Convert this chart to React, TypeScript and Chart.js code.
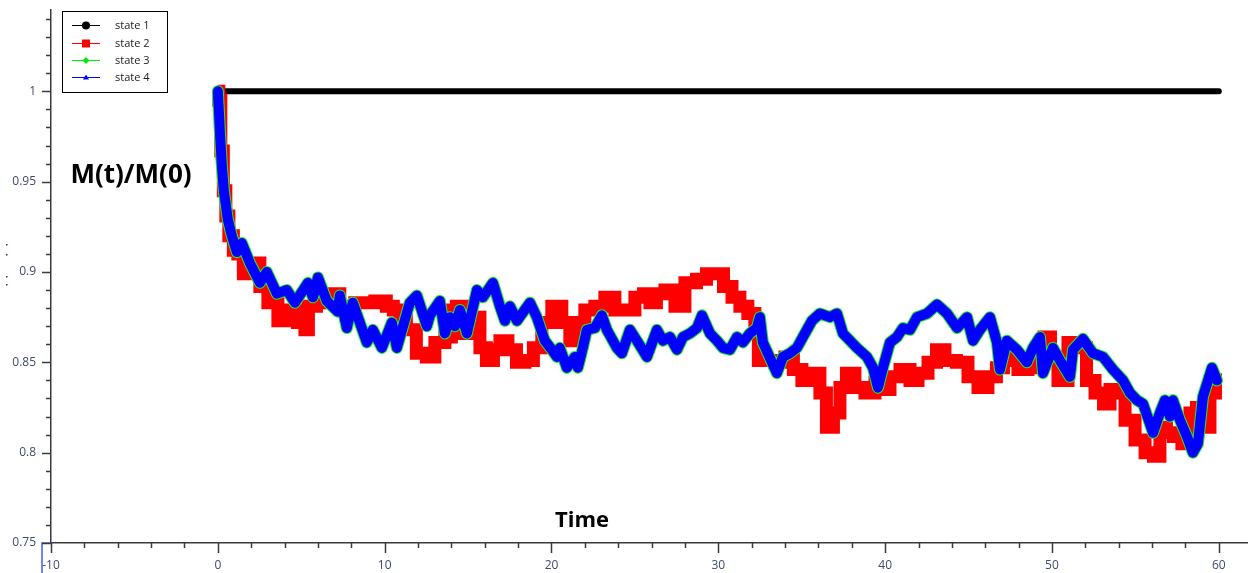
import React, { useEffect, useRef } from "react";
import { Chart, registerables } from "chart.js";

Chart.register(...registerables);

// ---- data ----
const state1T = [0, 60];
const state1V = [1, 1];

const state2T = [0,0.12,0.24,0.42,0.54,0.78,1.08,1.32,1.74,2.34,2.70,3.30,3.90,4.44,5.10,5.34,5.52,6.30,7.13,7.49,8.93,9.89,10.31,10.73,11.09,11.51,12.29,12.71,13.31,13.91,14.09,14.51,14.93,15.53,15.89,16.31,16.73,17.09,17.69,18.11,18.71,19.12,19.72,20.32,20.92,21.28,21.70,22.30,22.90,23.50,24.10,24.70,25.30,25.72,26.08,26.50,27.10,27.70,28.30,29.08,29.50,30.10,30.52,31.12,31.47,32.07,32.31,32.49,33.09,33.69,34.29,34.71,35.31,35.91,36.27,36.69,37.11,37.47,37.89,38.49,39.09,39.69,40.11,40.47,41.31,41.67,42.27,42.87,43.29,43.88,44.66,45.27,45.86,46.46,46.88,47.30,47.66,48.26,48.86,49.28,49.76,50.06,50.66,51.26,51.86,52.28,52.88,53.30,53.66,54.08,54.68,55.28,55.88,56.29,56.65,57.07,57.49,58.09,58.45,58.87,59.29,59.65,59.95];
const state2V = [1.0,0.995,0.967,0.945,0.931,0.920,0.912,0.910,0.899,0.905,0.892,0.883,0.873,0.879,0.872,0.868,0.881,0.883,0.888,0.881,0.883,0.884,0.881,0.879,0.875,0.868,0.855,0.853,0.861,0.864,0.879,0.881,0.866,0.875,0.858,0.851,0.857,0.862,0.857,0.850,0.851,0.858,0.872,0.881,0.872,0.862,0.872,0.879,0.881,0.886,0.879,0.879,0.886,0.888,0.883,0.888,0.890,0.881,0.894,0.896,0.899,0.899,0.892,0.886,0.881,0.877,0.869,0.851,0.851,0.850,0.853,0.846,0.840,0.844,0.833,0.814,0.822,0.836,0.844,0.836,0.833,0.839,0.835,0.842,0.846,0.840,0.844,0.850,0.857,0.851,0.850,0.842,0.836,0.842,0.847,0.858,0.851,0.846,0.847,0.851,0.864,0.853,0.840,0.861,0.858,0.840,0.833,0.827,0.835,0.833,0.818,0.807,0.800,0.798,0.814,0.811,0.809,0.805,0.822,0.825,0.814,0.833,0.844];

const state4T = [0,0.06,0.12,0.24,0.36,0.48,0.60,0.84,1.14,1.44,1.92,2.52,2.94,3.54,4.14,4.62,5.40,5.70,6.00,6.53,7.19,7.31,7.73,8.09,8.93,9.29,9.83,10.43,10.73,11.51,11.93,12.53,12.71,13.31,13.61,13.91,14.21,14.51,14.93,15.53,15.89,16.49,16.91,17.21,17.51,17.93,18.71,19.12,19.60,20.02,20.32,20.50,20.92,21.40,21.58,21.88,22.12,22.60,23.02,23.32,23.92,24.22,24.70,25.12,25.72,26.32,26.68,27.10,27.52,27.88,28.30,28.72,29.02,29.50,29.92,30.28,30.70,31.12,31.47,31.89,32.31,32.49,32.67,32.97,33.51,33.87,34.29,34.71,35.07,35.61,36.09,36.69,37.11,37.47,37.89,38.31,38.91,39.27,39.57,39.87,40.29,40.71,41.07,41.49,41.91,42.51,43.11,43.71,44.31,44.91,45.27,45.68,46.28,46.70,46.88,47.30,47.90,48.50,48.86,49.28,49.46,50.06,50.48,51.08,51.26,51.86,52.46,53.06,53.66,54.26,54.68,55.10,55.46,56.06,56.47,56.77,57.07,57.25,57.67,58.09,58.45,58.75,59.05,59.59,59.89];
const state4V = [1.0,0.9895,0.978,0.959,0.945,0.937,0.929,0.920,0.911,0.916,0.905,0.894,0.900,0.888,0.890,0.883,0.894,0.886,0.897,0.884,0.878,0.887,0.869,0.883,0.861,0.868,0.858,0.872,0.858,0.883,0.887,0.870,0.876,0.884,0.866,0.875,0.870,0.879,0.866,0.890,0.886,0.894,0.881,0.873,0.881,0.873,0.883,0.875,0.862,0.857,0.853,0.858,0.847,0.853,0.847,0.858,0.868,0.869,0.876,0.868,0.858,0.855,0.868,0.862,0.853,0.868,0.862,0.864,0.857,0.864,0.866,0.869,0.876,0.866,0.862,0.858,0.857,0.864,0.861,0.866,0.869,0.875,0.861,0.855,0.844,0.853,0.855,0.858,0.864,0.873,0.877,0.875,0.877,0.866,0.862,0.858,0.853,0.847,0.836,0.847,0.861,0.864,0.869,0.868,0.875,0.877,0.882,0.877,0.869,0.875,0.862,0.868,0.875,0.861,0.846,0.862,0.857,0.850,0.858,0.864,0.844,0.858,0.851,0.842,0.857,0.863,0.855,0.853,0.846,0.840,0.833,0.829,0.827,0.811,0.822,0.829,0.820,0.829,0.818,0.809,0.800,0.805,0.831,0.847,0.840];

// state 3 lies directly under state 4 in the reference
const state3T = state4T;
const state3V = state4V;

const legendLabels = ["state 1", "state 2", "state 3", "state 4"];
const yTitle = "M(t)/M(0)";
const xTitle = "Time";

const X_MIN = -10;
const X_MAX = 61.75;
const Y_MIN = 0.75;
const Y_MAX = 1.045;

const AXIS = "#3a3a3a";
const TICK_TXT = "#3e4a6e";

const toXY = (t: number[], v: number[]) => t.map((tt, i) => ({ x: tt, y: v[i] }));

const decor = {
  id: "decor",
  afterDraw(chart: any) {
    const { ctx } = chart;
    const xs = chart.scales.x;
    const ys = chart.scales.y;
    const left = chart.chartArea.left;
    const bottom = chart.chartArea.bottom;
    ctx.save();
    // artifact blue line at bottom left
    ctx.strokeStyle = "#4a5ae8";
    ctx.lineWidth = 1.5;
    ctx.beginPath();
    ctx.moveTo(42, 573);
    ctx.lineTo(42, bottom);
    ctx.lineTo(left, bottom);
    ctx.stroke();
    // tiny dots on left
    ctx.fillStyle = "#2a3a80";
    [244, 254, 276, 284].forEach((yy) => ctx.fillRect(6, yy, 1.5, 1.5));

    // ticks
    ctx.strokeStyle = AXIS;
    ctx.lineWidth = 1.5;
    for (let i = 0; i <= 29; i++) {
      const v = Y_MIN + i * 0.01;
      const py = Math.round(ys.getPixelForValue(v)) + 0.5;
      const len = i % 5 === 0 ? 9 : 5;
      ctx.beginPath();
      ctx.moveTo(left - len, py);
      ctx.lineTo(left, py);
      ctx.stroke();
    }
    for (let i = 0; i <= 35; i++) {
      const v = X_MIN + i * 2;
      const px = Math.round(xs.getPixelForValue(v)) + 0.5;
      const len = i % 5 === 0 ? 10 : 5;
      ctx.beginPath();
      ctx.moveTo(px, bottom);
      ctx.lineTo(px, bottom + len);
      ctx.stroke();
    }

    // axis titles (inside the plot)
    ctx.fillStyle = "#000";
    ctx.textAlign = "center";
    ctx.textBaseline = "middle";
    ctx.font = "bold 26px 'Open Sans'";
    ctx.fillText(yTitle, 131, 176);
    ctx.font = "bold 22px 'Open Sans'";
    ctx.fillText(xTitle, 582, 521);

    // legend box
    ctx.fillStyle = "#fff";
    ctx.fillRect(62.5, 11.5, 105, 81);
    ctx.strokeStyle = "#000";
    ctx.lineWidth = 1;
    ctx.strokeRect(62.5, 11.5, 105, 81);
    const colors = ["#000000", "#ff0000", "#00ee00", "#0000ff"];
    const rows = [25, 43, 60, 77];
    ctx.font = "11px 'Open Sans'";
    ctx.textAlign = "left";
    rows.forEach((ry, i) => {
      ctx.strokeStyle = colors[i];
      ctx.lineWidth = 1;
      ctx.beginPath();
      ctx.moveTo(72, ry + 0.5);
      ctx.lineTo(100, ry + 0.5);
      ctx.stroke();
      ctx.fillStyle = colors[i];
      ctx.beginPath();
      if (i === 0) {
        ctx.arc(86, ry + 0.5, 4, 0, Math.PI * 2);
      } else if (i === 1) {
        ctx.rect(82, ry - 3.5, 8, 8);
      } else if (i === 2) {
        ctx.moveTo(86, ry - 3);
        ctx.lineTo(89.5, ry + 0.5);
        ctx.lineTo(86, ry + 4);
        ctx.lineTo(82.5, ry + 0.5);
        ctx.closePath();
      } else {
        ctx.moveTo(86, ry - 2.5);
        ctx.lineTo(89, ry + 2.5);
        ctx.lineTo(83, ry + 2.5);
        ctx.closePath();
      }
      ctx.fill();
      ctx.fillStyle = "#222";
      ctx.fillText(legendLabels[i], 115, ry + 1);
    });
    ctx.restore();
  },
};

export default function App() {
  const ref = useRef<HTMLCanvasElement | null>(null);
  useEffect(() => {
    document.body.style.margin = "0";
    const canvas = ref.current!;
    const chart = new Chart(canvas, {
      type: "line",
      data: {
        datasets: [
          {
            label: legendLabels[0],
            data: toXY(state1T, state1V),
            borderColor: "#000",
            borderWidth: 6,
            borderCapStyle: "round",
            pointRadius: 0,
            order: 4,
          },
          {
            label: legendLabels[1],
            data: toXY(state2T, state2V),
            borderColor: "#ff0000",
            borderWidth: 13,
            borderJoinStyle: "miter",
            borderCapStyle: "butt",
            stepped: "middle",
            pointRadius: 0,
            order: 3,
          },
          {
            label: legendLabels[2],
            data: toXY(state3T, state3V),
            borderColor: "#22ee22",
            borderWidth: 12,
            borderJoinStyle: "round",
            borderCapStyle: "round",
            pointRadius: 0,
            order: 2,
          },
          {
            label: legendLabels[3],
            data: toXY(state4T, state4V),
            borderColor: "#0000ff",
            borderWidth: 10,
            borderJoinStyle: "round",
            borderCapStyle: "round",
            pointRadius: 0,
            order: 1,
          },
        ],
      } as any,
      options: {
        responsive: false,
        animation: false,
        layout: { padding: { top: 10, right: 0, left: 0, bottom: 0 } },
        plugins: { legend: { display: false }, tooltip: { enabled: false } },
        scales: {
          x: {
            type: "linear",
            min: X_MIN,
            max: X_MAX,
            afterFit: (s: any) => {
              s.height = 30;
              s.paddingLeft = 0;
              s.paddingRight = 0;
            },
            grid: { display: false, drawTicks: false },
            border: { display: true, color: AXIS, width: 1.5 },
            ticks: {
              stepSize: 10,
              includeBounds: false,
              padding: 15,
              color: TICK_TXT,
              font: { family: "'Open Sans'", size: 12 },
              maxRotation: 0,
              autoSkip: false,
            },
          },
          y: {
            type: "linear",
            min: Y_MIN,
            max: Y_MAX,
            afterFit: (s: any) => {
              s.width = 51;
              s.paddingTop = 0;
              s.paddingBottom = 0;
            },
            grid: { display: false, drawTicks: false },
            border: { display: true, color: AXIS, width: 1.5 },
            ticks: {
              stepSize: 0.05,
              includeBounds: false,
              padding: 15,
              color: TICK_TXT,
              font: { family: "'Open Sans'", size: 12 },
              autoSkip: false,
              callback: (v: any) => {
                const n = Math.round(Number(v) * 100) / 100;
                return String(n);
              },
            },
          },
        },
      },
      plugins: [decor],
    } as any);
    return () => chart.destroy();
  }, []);
  return (
    <div style={{ width: 1248, height: 573 }}>
      <canvas ref={ref} width={1248} height={573} style={{ display: "block" }} />
    </div>
  );
}
